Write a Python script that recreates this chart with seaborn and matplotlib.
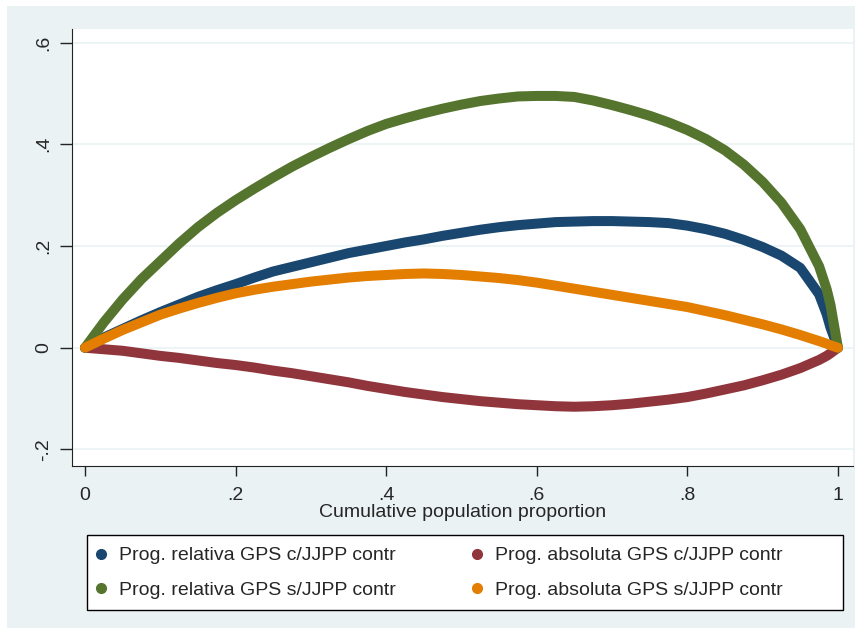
import numpy as np
import pandas as pd
import seaborn as sns
import matplotlib.pyplot as plt
from matplotlib.lines import Line2D
from matplotlib.patches import Rectangle

# cumulative population proportion (x positions)
pop = [0, .025, .05, .075, .1, .125, .15, .175, .2, .225, .25, .275, .3, .325,
       .35, .375, .4, .425, .45, .475, .5, .525, .55, .575, .6, .625, .65, .675,
       .7, .725, .75, .775, .8, .825, .85, .875, .9, .925, .95, .975, .985, .99, 1]

rel_con = [0, .02, .037, .054, .07, .085, .1, .113, .125, .138, .15, .159, .168, .177,
           .186, .193, .2, .207, .213, .22, .226, .232, .237, .241, .244, .247, .248, .249,
           .249, .248, .247, .245, .24, .233, .224, .212, .198, .181, .157, .105, .066, .04, 0]
rel_sin = [0, .05, .095, .135, .17, .205, .237, .265, .29, .313, .335, .356, .375, .393,
           .41, .426, .44, .451, .461, .47, .478, .485, .49, .494, .495, .495, .493, .486,
           .477, .467, .456, .443, .428, .41, .388, .36, .326, .285, .233, .16, .115, .085, 0]
abs_con = [0, -.003, -.006, -.011, -.016, -.02, -.025, -.03, -.034, -.039, -.045, -.05, -.056, -.062,
           -.068, -.075, -.081, -.087, -.092, -.097, -.101, -.105, -.108, -.111, -.113, -.115, -.116, -.115,
           -.113, -.11, -.106, -.102, -.097, -.09, -.082, -.074, -.064, -.053, -.04, -.024, -.016, -.011, 0]
abs_sin = [0, .018, .035, .05, .065, .077, .088, .098, .107, .114, .12, .125, .13, .134,
           .138, .141, .143, .145, .146, .145, .143, .14, .137, .133, .128, .122, .116, .11,
           .104, .098, .092, .086, .08, .072, .064, .055, .046, .036, .025, .013, .008, .005, 0]

labels = ["Prog. relativa GPS c/JJPP contr", "Prog. relativa GPS s/JJPP contr",
          "Prog. absoluta GPS c/JJPP contr", "Prog. absoluta GPS s/JJPP contr"]
colors = ["#1a476f", "#55752f", "#90353b", "#e37e00"]

xticks = [0, .2, .4, .6, .8, 1]
xticklabels = ["0", ".2", ".4", ".6", ".8", "1"]
yticks = [-.2, 0, .2, .4, .6]
yticklabels = ["-.2", "0", ".2", ".4", ".6"]

df = pd.concat([
    pd.DataFrame({"x": pop, "y": vals, "serie": lab})
    for vals, lab in zip([rel_con, rel_sin, abs_con, abs_sin], labels)
])

sns.set_style("white")
plt.rcParams["font.family"] = ["Liberation Sans", "DejaVu Sans"]

W, H = 862, 634
fig = plt.figure(figsize=(W / 100, H / 100), dpi=100)
# light outer background (graph region)
fig.patches.append(Rectangle((7 / W, 1 - 628 / H), 848 / W, 622 / H,
                             transform=fig.transFigure, facecolor="#eaf2f3",
                             edgecolor="none", zorder=-5))
# legend box
fig.patches.append(Rectangle((87 / W, 1 - 610 / H), 756 / W, 75 / H,
                             transform=fig.transFigure, facecolor="white",
                             edgecolor="black", linewidth=1, zorder=-4))

ax = fig.add_axes([72 / W, 1 - 466 / H, 781 / W, 437 / H])
ax.set_facecolor("white")

# draw order: red and blue first, green, orange on top
order = [labels[2], labels[0], labels[1], labels[3]]
for lab in order:
    sub = df[df["serie"] == lab]
    sns.lineplot(data=sub, x="x", y="y", color=colors[labels.index(lab)],
                 linewidth=7.2, sort=False, legend=False, ax=ax,
                 solid_capstyle="round", solid_joinstyle="round", zorder=3)

ax.set_xlim(-0.0173, 1.02)
ax.set_ylim(-0.2325, 0.6266)
ax.set_xticks(xticks)
ax.set_xticklabels(xticklabels)
ax.set_yticks(yticks)
ax.set_yticklabels(yticklabels, rotation=90, va="center")
ax.yaxis.grid(True, color="#eaf2f3", linewidth=1.2, zorder=1)
ax.xaxis.grid(False)
ax.tick_params(axis="both", width=1, color="#222222", labelsize=14,
               direction="out", bottom=True, left=True)
ax.tick_params(axis="x", length=7, pad=8)
ax.tick_params(axis="y", length=9, pad=5)

for side in ["top", "right"]:
    ax.spines[side].set_visible(False)
ax.spines["left"].set_color("#222222")
ax.spines["bottom"].set_color("#222222")

ax.set_xlabel("Cumulative population proportion", fontsize=14, labelpad=0)
ax.set_ylabel("")

handles = [Line2D([], [], marker="o", linestyle="none", color=c, markersize=7)
           for c in colors]
leg = fig.legend(handles, labels, loc="upper left", ncol=2,
                 bbox_to_anchor=(87 / W, 1 - 541 / H),
                 frameon=False, fontsize=14, handletextpad=0.55,
                 handlelength=0.8, borderpad=0.3, borderaxespad=0,
                 labelspacing=0.85, columnspacing=3.75)

fig.savefig("out.png", dpi=100, facecolor="white")
